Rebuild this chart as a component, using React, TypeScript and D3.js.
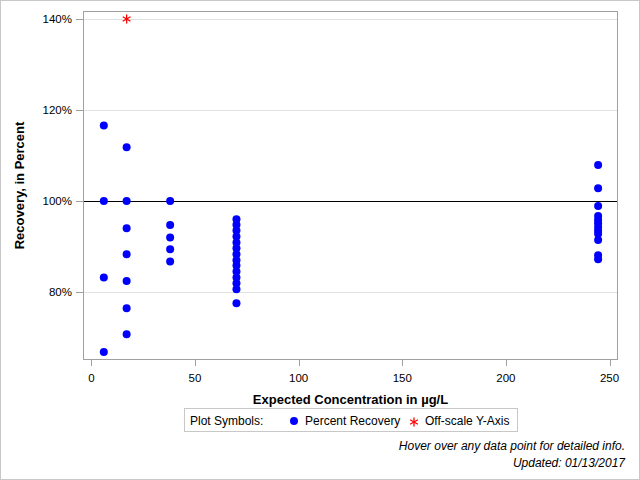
import React from "react";
import * as d3 from "d3";

const xTicks = [0, 50, 100, 150, 200, 250];
const yTicks = [80, 100, 120, 140];

const conc = [6, 17, 38, 70, 244.5];
const recovery: number[][] = [
  [116.6, 100, 83.2, 66.8],
  [111.8, 100, 94.0, 88.3, 82.4, 76.4, 70.7],
  [100, 94.7, 92.0, 89.4, 86.7],
  [96.0, 94.8, 93.5, 92.2, 90.9, 89.6, 88.3, 87.0, 85.8, 84.5, 83.2, 81.9, 80.6, 77.5],
  [107.9, 102.8, 98.9, 96.7, 95.9, 95.1, 94.3, 93.5, 92.8, 91.4, 88.1, 87.2],
];
const offScale = [{ x: 17, y: 140 }];

const W = 640, H = 480;
const L = 83, R = 618, T = 11, B = 360;

export default function App() {
  const x = d3.scaleLinear().domain([-4.05, 254.1]).range([L, R]);
  const y = d3.scaleLinear().domain([65.05, 141.76]).range([B, T]);
  const pts: { x: number; y: number }[] = [];
  conc.forEach((c, i) => recovery[i].forEach((v) => pts.push({ x: c, y: v })));
  const font = "'Liberation Sans', Arial, sans-serif";
  const star = (cx: number, cy: number) => {
    const r = 4.5;
    const lines = [0, 60, 120].map((a) => {
      const rad = (a * Math.PI) / 180 + Math.PI / 2;
      return (
        <line key={a} x1={cx - r * Math.cos(rad)} y1={cy - r * Math.sin(rad)} x2={cx + r * Math.cos(rad)} y2={cy + r * Math.sin(rad)} stroke="#ff0000" strokeWidth={1.3} />
      );
    });
    return lines;
  };
  return (
    <svg width={W} height={H} style={{ position: "absolute", left: 0, top: 0 }} fontFamily={font}>
      <rect x={0.5} y={0.5} width={W - 1} height={H - 1} fill="#fff" stroke="#c8c8c8" />
      {yTicks.filter((t) => t !== 100).map((t) => (
        <line key={t} x1={L} x2={R} y1={Math.round(y(t)) + 0.5} y2={Math.round(y(t)) + 0.5} stroke="#e1e1e1" />
      ))}
      <line x1={L} x2={R} y1={Math.round(y(100)) + 0.5} y2={Math.round(y(100)) + 0.5} stroke="#000" />
      <rect x={L + 0.5} y={T + 0.5} width={R - L - 1} height={B - T - 1} fill="none" stroke="#a0a0a0" />
      {yTicks.map((t) => (
        <g key={t}>
          <line x1={L - 7} x2={L} y1={Math.round(y(t)) + 0.5} y2={Math.round(y(t)) + 0.5} stroke="#a0a0a0" />
          <text x={L - 11} y={y(t) + 4} fontSize={11.5} textAnchor="end" fill="#000">{t}%</text>
        </g>
      ))}
      {xTicks.map((t) => (
        <g key={t}>
          <line x1={Math.round(x(t)) + 0.5} x2={Math.round(x(t)) + 0.5} y1={B} y2={B + 6} stroke="#a0a0a0" />
          <text x={x(t)} y={B + 22} fontSize={11.5} textAnchor="middle" fill="#000">{t}</text>
        </g>
      ))}
      <text x={(L + R) / 2} y={404} fontSize={13} fontWeight="bold" textAnchor="middle" fill="#000">Expected Concentration in µg/L</text>
      <text transform={`translate(24,${(T + B) / 2}) rotate(-90)`} fontSize={13} fontWeight="bold" textAnchor="middle" fill="#000">Recovery, in Percent</text>
      {pts.map((p, i) => (
        <circle key={i} cx={x(p.x)} cy={y(p.y)} r={4} fill="#0000ff" />
      ))}
      {offScale.map((p, i) => (
        <g key={i}>{star(x(p.x), y(p.y))}</g>
      ))}
      <rect x={184.5} y={408.5} width={333} height={23} fill="#fff" stroke="#c8c8c8" />
      <text x={190} y={425} fontSize={12} fill="#000">Plot Symbols:</text>
      <circle cx={294} cy={421} r={4} fill="#0000ff" />
      <text x={305} y={425} fontSize={12} fill="#000">Percent Recovery</text>
      {star(414, 422)}
      <text x={425} y={425} fontSize={12} fill="#000">Off-scale Y-Axis</text>
      <text x={625} y={450} fontSize={12} fontStyle="italic" textAnchor="end" fill="#000">Hover over any data point for detailed info.</text>
      <text x={625} y={467} fontSize={12} fontStyle="italic" textAnchor="end" fill="#000">Updated: 01/13/2017</text>
    </svg>
  );
}
